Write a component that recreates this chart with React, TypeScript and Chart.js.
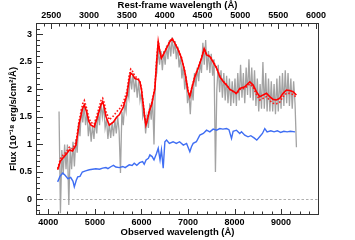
import React, { useEffect, useRef } from "react";
import { Chart, registerables } from "chart.js";

Chart.register(...registerables);

// redshift factor linking observed and rest-frame wavelength
const ONE_PLUS_Z = 1.625;
const OBS_MIN = 3735;
const OBS_MAX = 9815;
const Y_MIN = -0.282;
const Y_MAX = 3.209;

// tick labels
const obsTicks = [4000, 5000, 6000, 7000, 8000, 9000];
const restTicks = [2500, 3000, 3500, 4000, 4500, 5000, 5500, 6000];
const fluxTicks = [0, 0.5, 1, 1.5, 2, 2.5, 3];

// observed spectrum (grey)
const specWave = [
  4230, 4260, 4290, 4320, 4350, 4380, 4410, 4440, 4470, 4500,
  4530, 4560, 4590, 4620, 4650, 4680, 4710, 4740, 4770, 4800,
  4830, 4860, 4890, 4920, 4950, 4980, 5010, 5040, 5070, 5100,
  5130, 5160, 5190, 5220, 5250, 5280, 5310, 5340, 5370, 5400,
  5430, 5460, 5490, 5520, 5550, 5580, 5610, 5640, 5670, 5700,
  5730, 5760, 5790, 5820, 5850, 5880, 5910, 5940, 5970, 6000,
  6030, 6060, 6090, 6120, 6150, 6180, 6210, 6240, 6270, 6300,
  6330, 6360, 6390, 6420, 6450, 6480, 6510, 6540, 6570, 6600,
  6630, 6660, 6690, 6720, 6750, 6780, 6810, 6840, 6870, 6900,
  6930, 6960, 6990, 7020, 7050, 7080, 7110, 7140, 7170, 7200,
  7230, 7260, 7290, 7320, 7350, 7380, 7410, 7440, 7470, 7500,
  7530, 7560, 7590, 7620, 7650, 7680, 7710, 7740, 7770, 7800,
  7830, 7860, 7890, 7920, 7950, 7980, 8010, 8040, 8070, 8100,
  8130, 8160, 8190, 8220, 8250, 8280, 8310, 8340, 8370, 8400,
  8430, 8460, 8490, 8520, 8550, 8580, 8610, 8640, 8670, 8700,
  8730, 8760, 8790, 8820, 8850, 8880, 8910, 8940, 8970, 9000,
  9030, 9060, 9090, 9120, 9150, 9180, 9210, 9240, 9270, 9300,
  9330,
];
const specFlux = [
  1.6, -0.25, 0.9, 0.45, 1.0, 0.55, 1.0, -0.1, 0.95, 0.55,
  1.05, 0.6, 1.1, 0.85, 1.4, 1.15, 1.65, 1.4, 1.72, 1.35,
  1.6, 1.15, 1.4, 1.05, 1.35, 1.1, 1.45, 1.2, 1.6, 1.35,
  1.75, 1.5, 1.72, 1.3, 1.45, 1.1, 1.38, 1.12, 1.4, 1.15,
  1.45, 1.2, 1.5, 1.25, 0.48, 1.6, 1.35, 1.75, 1.6, 2.0,
  1.85, 2.3, 2.0, 2.3, 1.95, 2.2, 1.85, 2.15, 1.8, 1.95,
  1.5, 1.6, 1.2, 1.5, 1.3, 1.75, 1.45, 1.85, 1.0, 2.2,
  2.3, 2.75, 2.45, 2.7, 2.35, 2.7, 2.45, 2.8, 2.55, 2.9,
  2.6, 2.95, 2.65, 2.88, 2.55, 2.78, 2.4, 2.6, 2.2, 2.45,
  2.0, 2.25, 1.75, 1.95, 1.55, 2.05, 1.8, 2.3, 2.05, 2.4,
  2.15, 2.5, 2.3, 2.85, 2.45, 2.9, 2.35, 2.7, 2.3, 2.65,
  2.25, 2.55, 0.5, 2.0, 2.45, 1.95, 2.35, 1.85, 2.3, 1.8,
  2.25, 1.75, 2.2, 1.7, 2.15, 1.75, 2.2, 1.7, 2.3, 1.8,
  2.45, 1.85, 2.3, 1.75, 2.4, 1.9, 2.55, 1.85, 2.4, 1.8,
  2.35, 1.7, 2.2, 1.6, 2.1, 1.65, 2.5, 1.65, 2.3, 1.6,
  2.2, 1.6, 2.15, 1.6, 2.1, 1.55, 2.2, 1.6, 2.25, 1.65,
  2.3, 1.7, 2.35, 1.75, 2.3, 1.7, 2.2, 1.65, 2.15, 1.75,
  0.95,
];

// model fits (red solid and red dotted)
const modelWave = [
  4200, 4260, 4309, 4380, 4451, 4520, 4594, 4665, 4738, 4773,
  4820, 4870, 4916, 4987, 5050, 5131, 5167, 5200, 5238, 5309,
  5400, 5470, 5524, 5609, 5690, 5740, 5770, 5810, 5860, 5930,
  5967, 6000, 6039, 6070, 6096, 6130, 6167, 6219, 6290, 6326,
  6361, 6395, 6430, 6468, 6540, 6610, 6661, 6720, 6790, 6861,
  6933, 7004, 7040, 7090, 7148, 7220, 7292, 7348, 7400, 7470,
  7541, 7614, 7685, 7760, 7828, 7900, 7970, 8042, 8113, 8220,
  8328, 8400, 8470, 8542, 8614, 8686, 8757, 8828, 8900, 8972,
  9043, 9115, 9187, 9258, 9330,
];
const modelFlux = [
  0.54, 0.7, 0.75, 0.82, 0.9, 0.88, 0.99, 1.39, 1.66, 1.72,
  1.6, 1.42, 1.35, 1.32, 1.48, 1.72, 1.78, 1.68, 1.51, 1.35,
  1.41, 1.5, 1.54, 1.68, 1.9, 2.2, 2.3, 2.27, 2.2, 2.18,
  2.14, 2.0, 1.72, 1.5, 1.35, 1.45, 1.6, 1.72, 2.02, 2.5,
  2.87, 2.69, 2.57, 2.63, 2.75, 2.87, 2.92, 2.84, 2.72, 2.57,
  2.32, 1.96, 1.87, 2.05, 2.23, 2.39, 2.57, 2.74, 2.63, 2.6,
  2.5, 2.39, 2.23, 2.14, 2.08, 2.0, 1.97, 1.93, 2.02, 2.05,
  2.14, 2.08, 1.96, 1.87, 1.9, 1.93, 1.87, 1.82, 1.81, 1.84,
  1.93, 1.99, 1.98, 1.96, 1.9,
];
const modelAltFlux = [
  0.56, 0.74, 0.8, 0.86, 0.95, 0.92, 1.04, 1.45, 1.74, 1.8,
  1.67, 1.48, 1.4, 1.37, 1.55, 1.8, 1.84, 1.76, 1.6, 1.45,
  1.52, 1.6, 1.64, 1.76, 1.97, 2.27, 2.37, 2.33, 2.24, 2.2,
  2.15, 2.02, 1.74, 1.52, 1.37, 1.47, 1.62, 1.74, 2.04, 2.52,
  2.88, 2.7, 2.58, 2.64, 2.76, 2.88, 2.93, 2.85, 2.73, 2.58,
  2.33, 1.97, 1.88, 2.06, 2.24, 2.4, 2.58, 2.75, 2.64, 2.61,
  2.51, 2.4, 2.24, 2.15, 2.09, 2.0, 1.96, 1.92, 2.0, 2.02,
  2.1, 2.04, 1.91, 1.81, 1.84, 1.87, 1.8, 1.75, 1.74, 1.77,
  1.87, 1.93, 1.93, 1.91, 1.86,
];

// blue spectrum
const blueWave = [
  4200, 4250, 4309, 4360, 4420, 4480, 4530, 4558, 4600, 4631,
  4680, 4730, 4800, 4880, 4950, 5020, 5100, 5167, 5238, 5280,
  5350, 5400, 5450, 5524, 5600, 5650, 5738, 5800, 5845, 5900,
  5960, 6025, 6060, 6100, 6150, 6182, 6230, 6270, 6326, 6361,
  6400, 6430, 6468, 6504, 6540, 6600, 6680, 6750, 6820, 6900,
  6970, 7040, 7075, 7112, 7180, 7255, 7330, 7399, 7470, 7541,
  7614, 7685, 7750, 7828, 7880, 7935, 7970, 8042, 8113, 8150,
  8220, 8290, 8350, 8420, 8478, 8540, 8600, 8650, 8700, 8780,
  8850, 8920, 8990, 9060, 9130, 9200, 9300,
];
const blueFlux = [
  0.32, 0.42, 0.48, 0.44, 0.38, 0.4, 0.33, 0.23, 0.35, 0.41,
  0.42, 0.5, 0.52, 0.54, 0.55, 0.56, 0.55, 0.57, 0.58, 0.56,
  0.6, 0.62, 0.59, 0.58, 0.6, 0.58, 0.63, 0.62, 0.66, 0.62,
  0.67, 0.69, 0.64, 0.72, 0.75, 0.81, 0.78, 0.72, 0.84, 0.93,
  0.72, 0.9, 0.57, 1.05, 1.08, 1.02, 1.05, 1.02, 1.05, 0.99,
  1.02, 0.87, 0.96, 1.02, 1.05, 1.17, 1.2, 1.26, 1.23, 1.28,
  1.26, 1.29, 1.28, 1.29, 1.27, 1.11, 1.24, 1.26, 1.2, 1.23,
  1.17, 1.14, 1.16, 1.12, 1.08, 1.14, 1.2, 1.29, 1.23, 1.25,
  1.23, 1.25, 1.22, 1.24, 1.23, 1.24, 1.23,
];

const FONT_FAMILY = "'Liberation Sans', Arial, Helvetica, sans-serif";
const TICK_FONT = { family: FONT_FAMILY, size: 9, weight: "bold" as const };
const TITLE_FONT = { family: FONT_FAMILY, size: 9.5, weight: "bold" as const };

const pairs = (xs: number[], ys: number[]) => xs.map((x, i) => ({ x, y: ys[i] }));

const framePlugin = {
  id: "frame",
  beforeDatasetsDraw(chart: any) {
    const { ctx, chartArea: a, scales } = chart;
    const y0 = Math.round(scales.y.getPixelForValue(0)) + 0.5;
    ctx.save();
    ctx.strokeStyle = "#b0b0b0";
    ctx.lineWidth = 1;
    ctx.setLineDash([2.5, 2]);
    ctx.beginPath();
    ctx.moveTo(a.left, y0);
    ctx.lineTo(a.right, y0);
    ctx.stroke();
    ctx.restore();
  },
  afterDatasetsDraw(chart: any) {
    const { ctx, chartArea: a, scales } = chart;
    const sx = scales.x;
    const sx2 = scales.x2;
    const sy = scales.y;
    ctx.save();
    ctx.strokeStyle = "#333";
    ctx.lineWidth = 1;
    ctx.setLineDash([]);
    ctx.strokeRect(a.left + 0.5, a.top + 0.5, a.right - a.left - 1, a.bottom - a.top - 1);
    ctx.beginPath();
    for (let v = 3800; v <= OBS_MAX; v += 200) {
      const p = Math.round(sx.getPixelForValue(v)) + 0.5;
      if (p < a.left || p > a.right) continue;
      const len = v % 1000 === 0 ? 6 : 3.5;
      ctx.moveTo(p, a.bottom);
      ctx.lineTo(p, a.bottom - len);
    }
    for (let v = 2300; v <= OBS_MAX / ONE_PLUS_Z; v += 100) {
      const p = Math.round(sx2.getPixelForValue(v)) + 0.5;
      if (p < a.left || p > a.right) continue;
      const len = v % 500 === 0 ? 6 : 3.5;
      ctx.moveTo(p, a.top);
      ctx.lineTo(p, a.top + len);
    }
    for (let i = -2; i <= 32; i++) {
      const p = Math.round(sy.getPixelForValue(i / 10)) + 0.5;
      if (p < a.top || p > a.bottom) continue;
      const len = i % 5 === 0 ? 7 : 4;
      ctx.moveTo(a.left, p);
      ctx.lineTo(a.left + len, p);
    }
    ctx.stroke();
    ctx.restore();
  },
};

export default function App() {
  const canvasRef = useRef<HTMLCanvasElement | null>(null);

  useEffect(() => {
    const canvas = canvasRef.current;
    if (!canvas) return;
    const chart = new Chart(canvas, {
      type: "line",
      data: {
        datasets: [
          {
            label: "spectrum",
            data: pairs(specWave, specFlux),
            borderColor: "#a3a3a3",
            borderWidth: 1.3,
            pointRadius: 0,
            order: 4,
          },
          {
            label: "model alt",
            data: pairs(modelWave, modelAltFlux),
            borderColor: "#ff1a1a",
            borderWidth: 1.6,
            borderDash: [1.6, 1.8],
            pointRadius: 0,
            order: 3,
          },
          {
            label: "model",
            data: pairs(modelWave, modelFlux),
            borderColor: "#ff0000",
            borderWidth: 1.6,
            pointRadius: 0,
            order: 2,
          },
          {
            label: "blue",
            data: pairs(blueWave, blueFlux),
            borderColor: "#3f6ef3",
            borderWidth: 1.4,
            pointRadius: 0,
            order: 1,
          },
        ],
      },
      options: {
        animation: false,
        responsive: false,
        events: [],
        layout: { padding: { left: 0, right: 36, top: 0, bottom: 0 } },
        plugins: { legend: { display: false }, tooltip: { enabled: false } },
        scales: {
          x: {
            type: "linear",
            position: "bottom",
            min: OBS_MIN,
            max: OBS_MAX,
            afterFit: (s: any) => { s.height = 25; },
            afterBuildTicks: (s: any) => { s.ticks = obsTicks.map((value) => ({ value })); },
            grid: { display: false, drawTicks: false },
            border: { display: false },
            ticks: {
              padding: 2,
              color: "#000",
              font: TICK_FONT,
              maxRotation: 0,
              autoSkip: false,
              callback: (v: any) => String(v),
            },
            title: {
              display: true,
              text: "Observed wavelength (Å)",
              color: "#000",
              font: TITLE_FONT,
              padding: { top: 0, bottom: 2 },
            },
          },
          x2: {
            type: "linear",
            position: "top",
            min: OBS_MIN / ONE_PLUS_Z,
            max: OBS_MAX / ONE_PLUS_Z,
            afterFit: (s: any) => { s.height = 23; },
            afterBuildTicks: (s: any) => { s.ticks = restTicks.map((value) => ({ value })); },
            grid: { display: false, drawTicks: false },
            border: { display: false },
            ticks: {
              padding: 2,
              color: "#000",
              font: TICK_FONT,
              maxRotation: 0,
              autoSkip: false,
              callback: (v: any) => String(v),
            },
            title: {
              display: true,
              text: "Rest-frame wavelength (Å)",
              color: "#000",
              font: TITLE_FONT,
              padding: { top: 0, bottom: 0 },
            },
          },
          y: {
            type: "linear",
            position: "left",
            min: Y_MIN,
            max: Y_MAX,
            afterFit: (s: any) => { s.width = 36; },
            afterBuildTicks: (s: any) => { s.ticks = fluxTicks.map((value) => ({ value })); },
            grid: { display: false, drawTicks: false },
            border: { display: false },
            ticks: {
              padding: 4,
              color: "#000",
              font: TICK_FONT,
              autoSkip: false,
              callback: (v: any) => String(Number(Number(v).toFixed(2))),
            },
            title: {
              display: true,
              text: "Flux (10⁻¹⁸ erg/s/cm²/Å)",
              color: "#000",
              font: TITLE_FONT,
              padding: { top: 8, bottom: 0 },
            },
          },
        },
      },
      plugins: [framePlugin],
    });
    return () => chart.destroy();
  }, []);

  return (
    <div style={{ position: "fixed", left: 0, top: 0, width: 355, height: 240, background: "#fff" }}>
      <canvas ref={canvasRef} width={355} height={240} style={{ display: "block" }} />
    </div>
  );
}
